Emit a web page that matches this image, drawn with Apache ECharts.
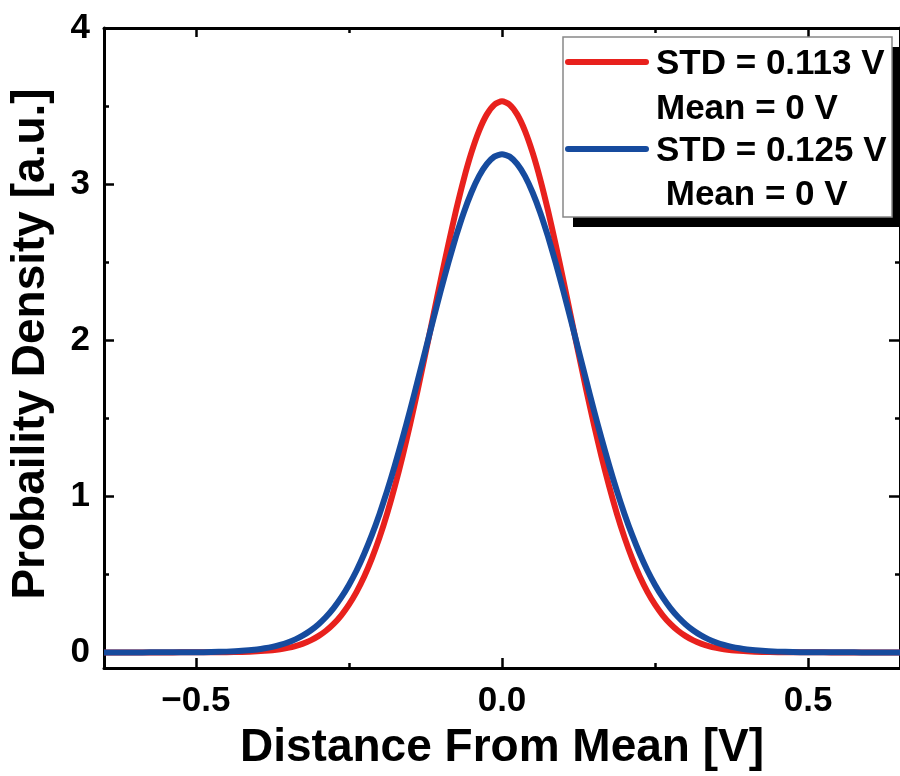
<!DOCTYPE html>
<html>
<head>
<meta charset="utf-8">
<script src="https://cdn.jsdelivr.net/npm/echarts@6/dist/echarts.min.js"></script>
<style>
html,body{margin:0;padding:0;background:#fff;}
#chart{width:900px;height:776px;}
</style>
</head>
<body>
<div id="chart"></div>
<script>
// Data
var xValues = [-0.65,-0.625,-0.6,-0.575,-0.55,-0.525,-0.5,-0.475,-0.45,-0.425,-0.4,
  -0.3875,-0.375,-0.3625,-0.35,-0.3375,-0.325,-0.3125,-0.3,-0.2875,-0.275,-0.2625,-0.25,-0.2375,-0.225,-0.2125,-0.2,-0.1875,-0.175,-0.1625,-0.15,-0.1375,-0.125,-0.1125,-0.1,-0.0875,-0.075,-0.0625,-0.05,-0.0375,-0.025,-0.0125,0,
  0.0125,0.025,0.0375,0.05,0.0625,0.075,0.0875,0.1,0.1125,0.125,0.1375,0.15,0.1625,0.175,0.1875,0.2,0.2125,0.225,0.2375,0.25,0.2625,0.275,0.2875,0.3,0.3125,0.325,0.3375,0.35,0.3625,0.375,0.3875,
  0.4,0.425,0.45,0.475,0.5,0.525,0.55,0.575,0.6,0.625,0.65];
var redValues = [0,0,0,0,0,0.0001,0.0002,0.0005,0.0013,0.0030,0.0067,
  0.0099,0.0143,0.0206,0.0292,0.0408,0.0564,0.0771,0.1041,0.1388,0.1827,0.2377,0.3055,0.3879,0.486,0.6025,0.737,0.891,1.064,1.255,1.463,1.684,1.915,2.151,2.387,2.616,2.833,3.030,3.201,3.341,3.445,3.509,3.530,
  3.509,3.445,3.341,3.201,3.030,2.833,2.616,2.387,2.151,1.915,1.684,1.463,1.255,1.064,0.891,0.737,0.6025,0.486,0.3879,0.3055,0.2377,0.1827,0.1388,0.1041,0.0771,0.0564,0.0408,0.0292,0.0206,0.0143,0.0099,
  0.0067,0.0030,0.0013,0.0005,0.0002,0.0001,0,0,0,0,0];
var blueValues = [0,0,0,0.0001,0.0002,0.0005,0.0011,0.0023,0.0049,0.0099,0.0191,
  0.0261,0.0355,0.0476,0.0633,0.0834,0.1087,0.1402,0.1791,0.2266,0.2838,0.3519,0.432,0.5249,0.632,0.7524,0.887,1.036,1.198,1.371,1.553,1.743,1.936,2.129,2.318,2.498,2.666,2.817,2.946,3.051,3.128,3.176,3.191,
  3.176,3.128,3.051,2.946,2.817,2.666,2.498,2.318,2.129,1.936,1.743,1.553,1.371,1.198,1.036,0.887,0.7524,0.632,0.5249,0.432,0.3519,0.2838,0.2266,0.1791,0.1402,0.1087,0.0834,0.0633,0.0476,0.0355,0.0261,
  0.0191,0.0099,0.0049,0.0023,0.0011,0.0005,0.0002,0.0001,0,0,0];
var seriesNames = ['STD = 0.113 V', 'STD = 0.125 V'];
var seriesSub = ['Mean = 0 V', ' Mean = 0 V'];
var xMajorTicks = [-0.5, 0, 0.5];
var xMinorTicks = [-0.25, 0.25];
var yMajorTicks = [0, 1, 2, 3, 4];
var yMinorTicks = [0.5, 1.5, 2.5, 3.5];

var FONT = '"Liberation Sans", Arial, sans-serif';
var redData = xValues.map(function(x,i){return [x, redValues[i]];});
var blueData = xValues.map(function(x,i){return [x, blueValues[i]];});

function xAx(pos, ticks, len, main){
  return {
    type:'value', position:pos, min:-0.65, max:0.65,
    axisLine:{show:main, onZero:false, lineStyle:{color:'#000', width:3}},
    axisTick:{show:true, inside:true, length:len, customValues:ticks, lineStyle:{color:'#000', width:2.5}},
    axisLabel:{show:main && pos==='bottom', customValues:xMajorTicks, margin:16,
      fontFamily:FONT, fontWeight:'bold', fontSize:35, color:'#000',
      formatter:function(v){return (v<0?'\u2212':'')+Math.abs(v).toFixed(1);}},
    splitLine:{show:false},
    name: (main && pos==='bottom') ? 'Distance From Mean [V]' : '',
    nameLocation:'middle', nameGap:57,
    nameTextStyle:{fontFamily:FONT, fontWeight:'bold', fontSize:46, color:'#000'}
  };
}
function yAx(pos, ticks, len, main){
  return {
    type:'value', position:pos, min:-0.1, max:4,
    axisLine:{show:main, onZero:false, lineStyle:{color:'#000', width:3}},
    axisTick:{show:true, inside:true, length:len, customValues:ticks, lineStyle:{color:'#000', width:2.5}},
    axisLabel:{show:main && pos==='left', customValues:yMajorTicks, margin:14,
      fontFamily:FONT, fontWeight:'bold', fontSize:35, color:'#000'},
    splitLine:{show:false},
    name: (main && pos==='left') ? 'Probaility Density [a.u.]' : '',
    nameLocation:'middle', nameGap:50,
    nameTextStyle:{fontFamily:FONT, fontWeight:'bold', fontSize:46, color:'#000', padding:[0,0,0,8]}
  };
}

var chart = echarts.init(document.getElementById('chart'), null, {renderer:'canvas'});
var legendFont = 'bold 35px ' + FONT;
chart.setOption({
  backgroundColor:'#fff',
  animation:false,
  grid:{left:101, right:-5, top:28, bottom:106, containLabel:false},
  xAxis:[
    xAx('bottom', xMajorTicks, 10, true),
    xAx('bottom', xMinorTicks, 5, false),
    xAx('top', xMajorTicks, 9, true),
    xAx('top', xMinorTicks, 5, false)
  ],
  yAxis:[
    yAx('left', yMajorTicks, 10, true),
    yAx('left', yMinorTicks, 5, false),
    yAx('right', yMajorTicks, 11, true),
    yAx('right', yMinorTicks, 5, false)
  ],
  series:[
    {type:'line', name:seriesNames[0], data:redData, xAxisIndex:0, yAxisIndex:0, showSymbol:false, smooth:0.2,
      lineStyle:{color:'#E8211D', width:6, join:'round'}, itemStyle:{color:'#E8211D'}, z:3},
    {type:'line', name:seriesNames[1], data:blueData, xAxisIndex:0, yAxisIndex:0, showSymbol:false, smooth:0.2,
      lineStyle:{color:'#164B9E', width:6, join:'round'}, itemStyle:{color:'#164B9E'}, z:4}
  ],
  graphic:[
    {type:'rect', shape:{x:573, y:47, width:330, height:180}, style:{fill:'#000'}, z:10},
    {type:'rect', shape:{x:563, y:37, width:329, height:180}, style:{fill:'#fff', stroke:'#888', lineWidth:1.5}, z:11},
    {type:'line', shape:{x1:568, y1:62, x2:646, y2:62}, style:{stroke:'#E8211D', lineWidth:6, lineCap:'round'}, z:12},
    {type:'line', shape:{x1:568, y1:149, x2:646, y2:149}, style:{stroke:'#164B9E', lineWidth:6, lineCap:'round'}, z:12},
    {type:'text', x:656, y:64, style:{text:seriesNames[0], font:legendFont, fill:'#000', verticalAlign:'middle'}, z:12},
    {type:'text', x:656, y:109, style:{text:seriesSub[0], font:legendFont, fill:'#000', verticalAlign:'middle'}, z:12},
    {type:'text', x:656, y:151, style:{text:seriesNames[1], font:legendFont, fill:'#000', verticalAlign:'middle'}, z:12},
    {type:'text', x:656, y:195, style:{text:seriesSub[1], font:legendFont, fill:'#000', verticalAlign:'middle'}, z:12}
  ]
});
</script>
</body>
</html>
